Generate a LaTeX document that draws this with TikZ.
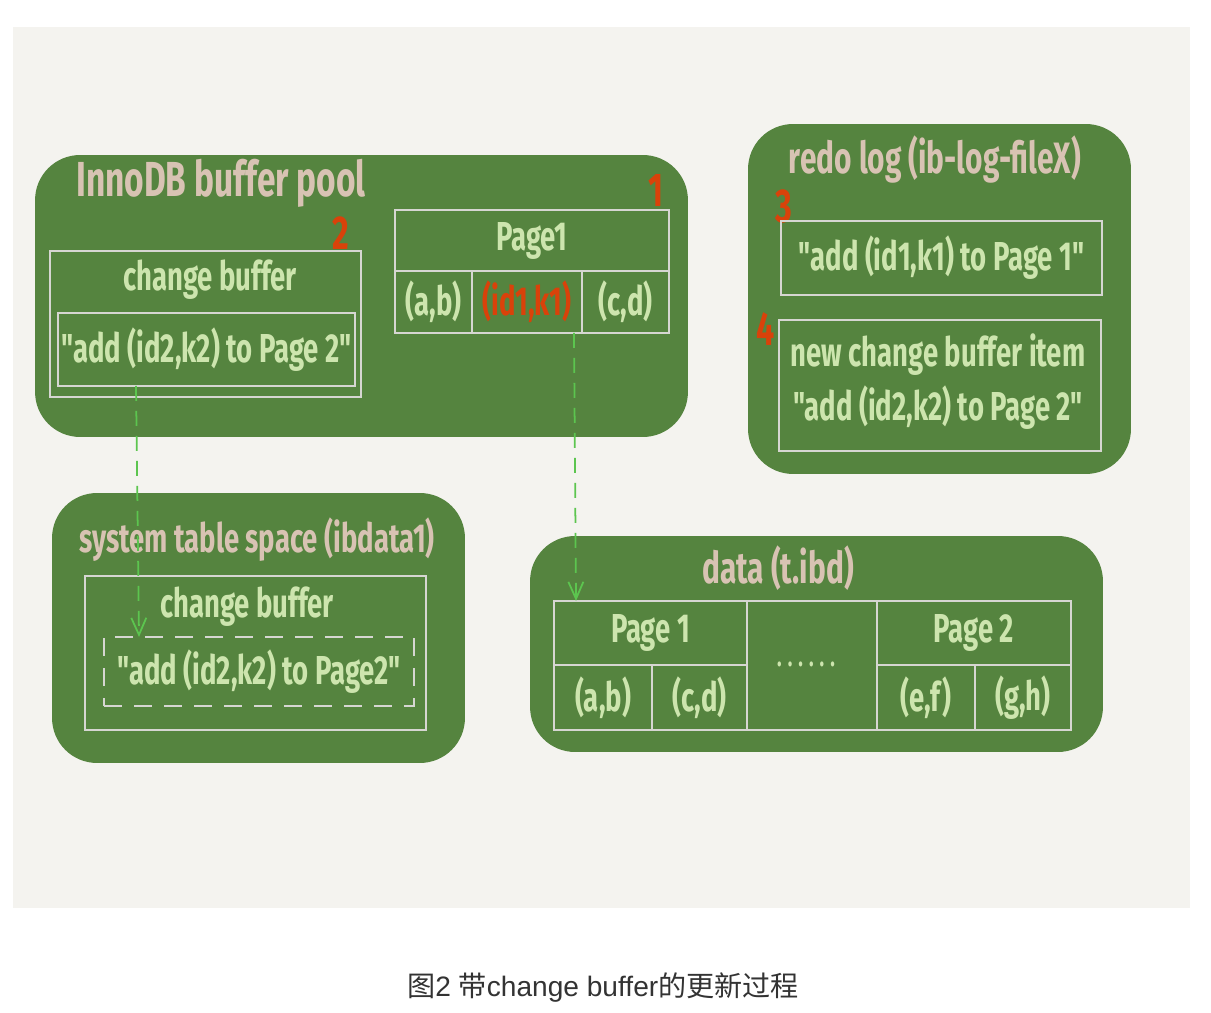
\documentclass[tikz,border=0pt]{standalone}
\usepackage{fontspec}
\usepackage{tikz}
\usetikzlibrary{arrows.meta}

\newfontfamily\handfont{Fira Sans}[FakeStretch=0.68]
\newfontfamily\cjkfont{Noto Sans CJK SC}
\newfontfamily\capfont{Liberation Sans}

\definecolor{panelbg}{HTML}{F4F3EF}
\definecolor{poolgreen}{HTML}{55843F}
\definecolor{titletan}{HTML}{D8C3B3}
\definecolor{itemgreen}{HTML}{CDE5AE}
\definecolor{gridgray}{HTML}{D6D6D2}
\definecolor{tagred}{HTML}{D9420A}
\definecolor{flowgreen}{HTML}{5CC54F}
\definecolor{captext}{HTML}{333333}

\begin{document}
\begin{tikzpicture}[x=0.02cm, y=-0.02cm,
    area/.style={fill=poolgreen, rounded corners=0.9cm, inner sep=0pt},
    cell/.style={draw=gridgray, line width=1pt, inner sep=0pt, outer sep=0pt},
    title/.style={text=titletan, font=\handfont\bfseries\fontsize{25}{27}\selectfont},
    item/.style={text=itemgreen, font=\handfont\bfseries\fontsize{23}{25}\selectfont},
    tag/.style={text=tagred, font=\handfont\bfseries\fontsize{27}{29}\selectfont},
    flow/.style={flowgreen, line width=1pt, dash pattern=on 0.3cm off 0.2cm,
        -{Straight Barb[length=0.34cm,width=0.3cm]}}]
    \useasboundingbox (0,0) rectangle (1211,1013);
    \fill[white] (0,0) rectangle (1211,1013);
    \fill[panelbg] (13,27) rectangle (1190,908);

    % InnoDB buffer pool
    \node[area, minimum width=13.06cm, minimum height=5.64cm] (pool) at (361.5,296) {};
    \node[title, anchor=west, font=\handfont\bfseries\fontsize{28}{30}\selectfont] (poolT) at (70,183) {InnoDB buffer pool};
    \node[cell, minimum width=6.22cm, minimum height=2.92cm] (cbOuter) at (205.5,324) {};
    \node[item] (cbT) at (210,280) {change buffer};
    \node[cell, minimum width=5.94cm, minimum height=1.46cm, item] (cbItem) at (206.5,349.5) {"add (id2,k2) to Page 2"};
    \node[tag] (tag2) at (341,233) {2};
    \node[cell, minimum width=5.48cm, minimum height=1.22cm, item] (p1Head) at (532,240.5) {Page1};
    \node[cell, minimum width=1.54cm, minimum height=1.24cm, item] (p1A) at (433.5,302) {(a,b)};
    \node[cell, minimum width=2.2cm, minimum height=1.24cm, item, text=tagred] (p1New) at (527,302) {(id1,k1)};
    \node[cell, minimum width=1.74cm, minimum height=1.24cm, item] (p1C) at (625.5,302) {(c,d)};
    \node[tag] (tag1) at (656,190) {1};

    % redo log
    \node[area, minimum width=7.66cm, minimum height=7cm] (redo) at (939.5,299) {};
    \node[title] (redoT) at (935,160) {redo log (ib-log-fileX)};
    \node[tag] (tag3) at (784,207) {3};
    \node[cell, minimum width=6.42cm, minimum height=1.48cm, item] (redo1) at (941.5,258) {"add (id1,k1) to Page 1"};
    \node[tag] (tag4) at (766,329) {4};
    \node[cell, minimum width=6.44cm, minimum height=2.62cm] (redo2) at (940,385.5) {};
    \node[item] (redo2a) at (938,355) {new change buffer item};
    \node[item] (redo2b) at (938,408) {"add (id2,k2) to Page 2"};

    % system table space
    \node[area, minimum width=8.26cm, minimum height=5.4cm] (sys) at (258.5,628) {};
    \node[title, font=\handfont\bfseries\fontsize{23}{25}\selectfont] (sysT) at (257,540) {system table space (ibdata1)};
    \node[cell, minimum width=6.82cm, minimum height=3.08cm] (sysOuter) at (255.5,653) {};
    \node[item] (sysCb) at (247,607) {change buffer};
    \node[cell, dash pattern=on 0.36cm off 0.24cm, minimum width=6.2cm, minimum height=1.38cm, item] (sysItem) at (259,671.5) {"add (id2,k2) to Page2"};

    % data (t.ibd)
    \node[area, minimum width=11.46cm, minimum height=4.32cm] (data) at (816.5,644) {};
    \node[title] (dataT) at (778,568) {data (t.ibd)};
    \node[cell, minimum width=3.86cm, minimum height=1.28cm, item] (d1Head) at (650.5,633) {Page 1};
    \node[cell, minimum width=2.6cm, minimum height=2.58cm] (dDots) at (812,665.5) {};
    \node[item, font=\handfont\bfseries\fontsize{16}{18}\selectfont] (dDotsT) at (806,664) {. . . . . .};
    \node[cell, minimum width=3.88cm, minimum height=1.28cm, item] (d2Head) at (974,633) {Page 2};
    \node[cell, minimum width=1.96cm, minimum height=1.3cm, item] (dA) at (603,697.5) {(a,b)};
    \node[cell, minimum width=1.9cm, minimum height=1.3cm, item] (dC) at (699.5,697.5) {(c,d)};
    \node[cell, minimum width=1.96cm, minimum height=1.3cm, item] (dE) at (926,697.5) {(e,f)};
    \node[cell, minimum width=1.92cm, minimum height=1.3cm, item] (dG) at (1023,697.5) {(g,h)};

    % flows
    \draw[flow] ([xshift=-1.41cm]cbItem.south) -- ([xshift=-2.4cm]sysItem.north);
    \draw[flow] ([xshift=0.94cm]p1New.south) -- ([xshift=-1.49cm]d1Head.north);

    % caption
    \node[text=captext, font=\fontsize{16}{18}\selectfont] (caption) at (603,988)
        {\cjkfont 图\capfont 2 \cjkfont 带\capfont change buffer\cjkfont 的更新过程};
\end{tikzpicture}
\end{document}
